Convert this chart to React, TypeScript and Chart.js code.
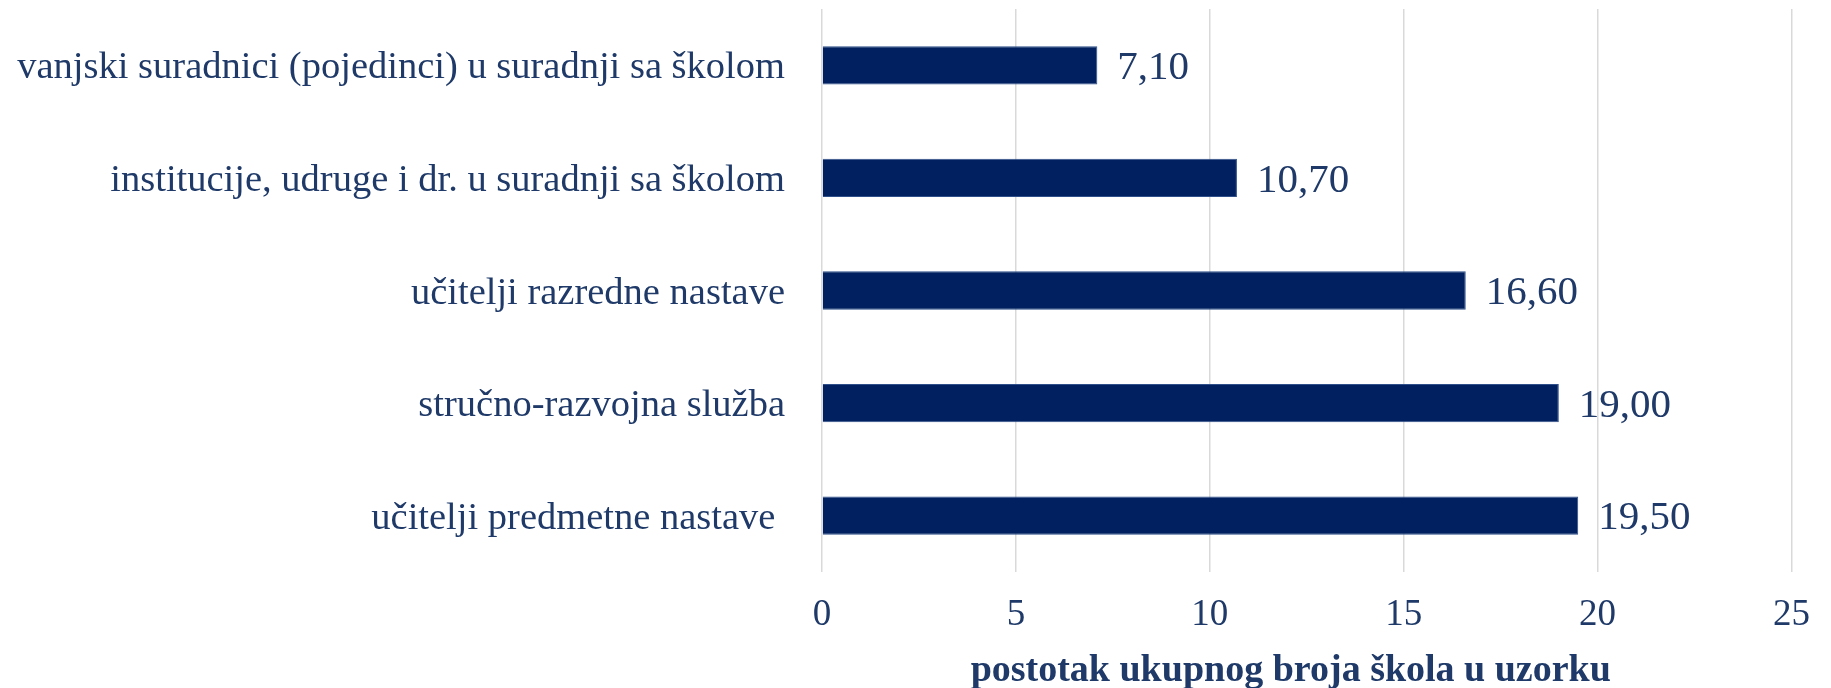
import React, { useEffect, useRef } from "react";
import { Chart, registerables } from "chart.js";

Chart.register(...registerables);

const categories = [
  "vanjski suradnici (pojedinci) u suradnji sa školom",
  "institucije, udruge i dr. u suradnji sa školom",
  "učitelji razredne nastave",
  "stručno-razvojna služba",
  "učitelji predmetne nastave ",
];
const values = [7.1, 10.7, 16.6, 19.0, 19.5];
const xTicks = [0, 5, 10, 15, 20, 25];
const axisTitle = "postotak ukupnog broja škola u uzorku";

const BAR = "#002060";
const TEXT = "#1F3A68";
const FONT = "'Liberation Serif', 'DejaVu Serif', serif";

const valueLabels = {
  id: "valueLabels",
  afterDatasetsDraw(chart: any) {
    const ctx = chart.ctx;
    const meta = chart.getDatasetMeta(0);
    ctx.save();
    ctx.font = `41px ${FONT}`;
    ctx.fillStyle = TEXT;
    ctx.textAlign = "left";
    ctx.textBaseline = "middle";
    meta.data.forEach((el: any, i: number) => {
      const v = values[i];
      ctx.fillText(v.toFixed(2).replace(".", ","), el.x + 20, el.y + 3);
    });
    // axis title
    const area = chart.chartArea;
    ctx.font = `bold 38px ${FONT}`;
    ctx.textAlign = "center";
    ctx.textBaseline = "middle";
    ctx.fillText(axisTitle, (area.left + area.right) / 2 - 16, chart.height - 17);
    ctx.restore();
  },
};

export default function App() {
  const ref = useRef<HTMLCanvasElement>(null);
  useEffect(() => {
    document.body.style.margin = "0";
    const chart = new Chart(ref.current!, {
      type: "bar",
      data: {
        labels: categories,
        datasets: [
          {
            data: values,
            backgroundColor: BAR,
            borderColor: "#2F4F8A",
            borderWidth: 1,
            barPercentage: 0.34,
            categoryPercentage: 1,
          },
        ],
      },
      options: {
        indexAxis: "y",
        animation: false,
        responsive: false,
        maintainAspectRatio: false,
        layout: { padding: { top: 9, right: 38, left: 0, bottom: 0 } },
        plugins: { legend: { display: false }, tooltip: { enabled: false } },
        scales: {
          x: {
            min: 0,
            max: 25,
            afterBuildTicks(scale: any) {
              scale.ticks = xTicks.map((v) => ({ value: v }));
            },
            afterFit(scale: any) {
              scale.height = 116;
              scale.paddingTop = 0;
              scale.paddingBottom = 0;
            },
            grid: { color: "#D9D9D9", lineWidth: 1.5, drawTicks: false },
            border: { display: false },
            ticks: {
              color: TEXT,
              font: { family: FONT, size: 37 },
              padding: 21,
            },
          },
          y: {
            afterFit(scale: any) {
              scale.width = 822;
              scale.paddingTop = 0;
              scale.paddingBottom = 0;
            },
            grid: { display: false, drawTicks: false },
            border: { display: false },
            ticks: {
              color: TEXT,
              font: { family: FONT, size: 38.5 },
              padding: 37,
              labelOffset: 3,
            },
          },
        },
      },
      plugins: [valueLabels],
    });
    return () => chart.destroy();
  }, []);
  return <canvas ref={ref} width={1831} height={688} style={{ display: "block" }} />;
}
